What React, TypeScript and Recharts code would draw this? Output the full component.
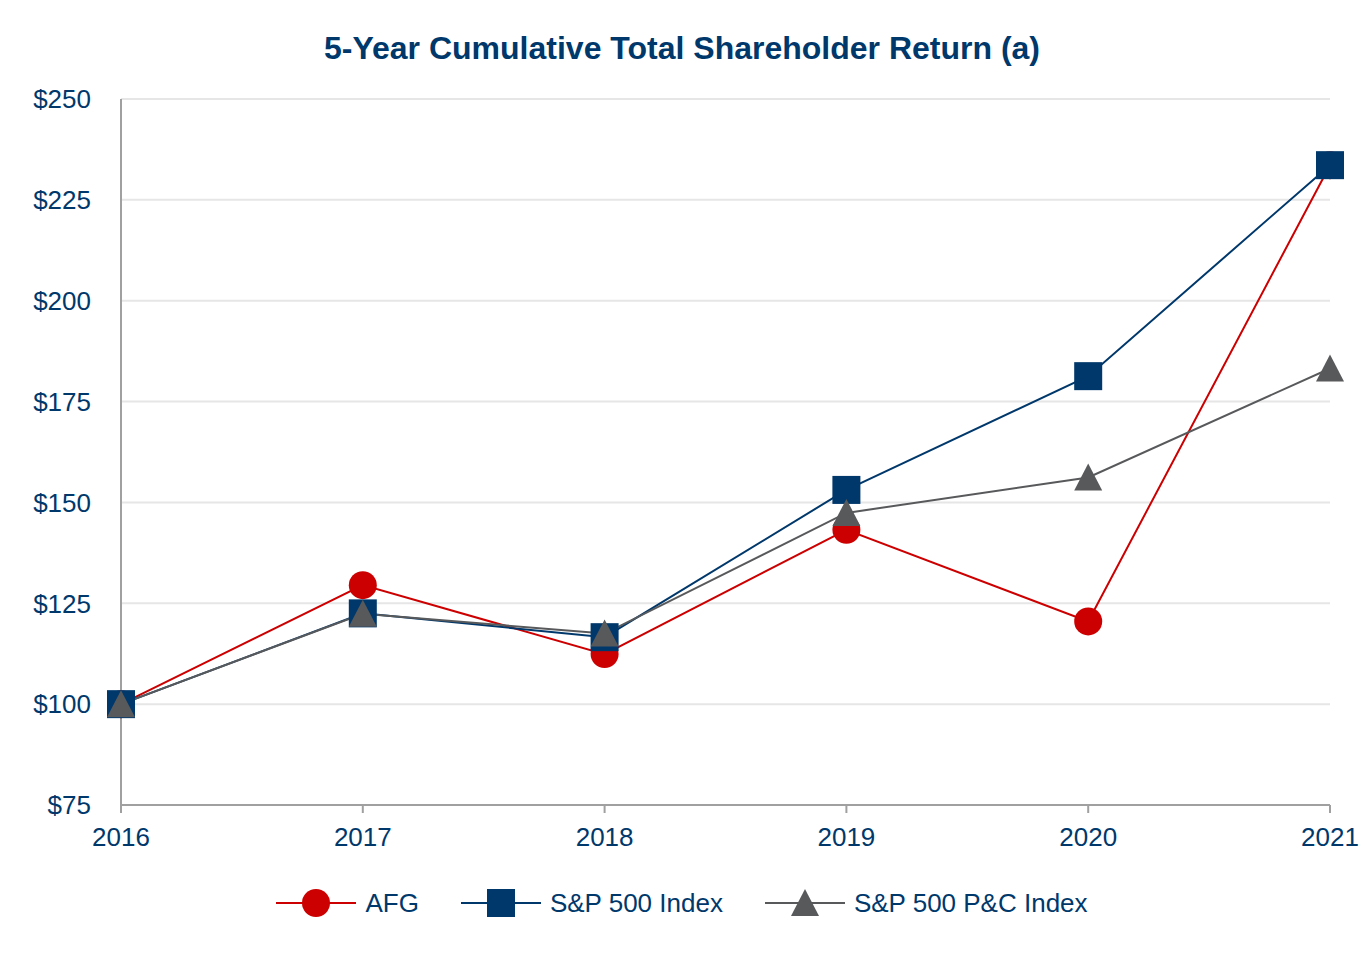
import React from "react";
import { LineChart, Line, XAxis, YAxis, CartesianGrid, Legend } from "recharts";

const years = ["2016", "2017", "2018", "2019", "2020", "2021"];
const afg = [100, 129.5, 112.4, 143.2, 120.5, 233.6];
const sp500 = [100, 122.5, 116.6, 153.1, 181.3, 233.6];
const spPC = [100, 122.4, 117.5, 147.4, 156.2, 183.2];
const yTicks = [75, 100, 125, 150, 175, 200, 225, 250];

const seriesNames = ["AFG", "S&P 500 Index", "S&P 500 P&C Index"];
const COLORS = { afg: "#cc0000", sp: "#00386b", pc: "#58595b" };
const TEXT = "#00386b";
const FONT = "'Liberation Sans', Arial, Helvetica, sans-serif";

const data = years.map((y, i) => ({ year: y, afg: afg[i], sp: sp500[i], pc: spPC[i] }));

const CircleDot = (props: any) => {
  const { cx, cy } = props;
  if (cx == null || cy == null) return null;
  return <circle cx={cx} cy={cy} r={14} fill={COLORS.afg} />;
};
const SquareDot = (props: any) => {
  const { cx, cy } = props;
  if (cx == null || cy == null) return null;
  return <rect x={cx - 14} y={cy - 14} width={28} height={28} fill={COLORS.sp} />;
};
const TriDot = (props: any) => {
  const { cx, cy } = props;
  if (cx == null || cy == null) return null;
  return <polygon points={`${cx},${cy - 14} ${cx + 14},${cy + 13} ${cx - 14},${cy + 13}`} fill={COLORS.pc} />;
};

const markerFor = (i: number) => {
  if (i === 0) return <circle cx={40} cy={20} r={14} fill={COLORS.afg} />;
  if (i === 1) return <rect x={26} y={6} width={28} height={28} fill={COLORS.sp} />;
  return <polygon points={`40,6 54,33 26,33`} fill={COLORS.pc} />;
};
const colorFor = [COLORS.afg, COLORS.sp, COLORS.pc];

const LegendContent = () => (
  <div style={{ display: "flex", justifyContent: "center", alignItems: "center", gap: 42, fontFamily: FONT, fontSize: 26, color: TEXT }}>
    {seriesNames.map((n, i) => (
      <div key={n} style={{ display: "flex", alignItems: "center" }}>
        <svg width={80} height={40} style={{ display: "block" }}>
          <line x1={0} y1={20} x2={80} y2={20} stroke={colorFor[i]} strokeWidth={2} />
          {markerFor(i)}
        </svg>
        <span style={{ marginLeft: 9, lineHeight: "40px", whiteSpace: "nowrap" }}>{n}</span>
      </div>
    ))}
  </div>
);

export default function App() {
  return (
    <div style={{ position: "absolute", left: 0, top: 0, width: 1364, height: 960, background: "#fff" }}>
      <div
        style={{
          position: "absolute",
          top: 28,
          left: 0,
          width: 1364,
          textAlign: "center",
          fontFamily: FONT,
          fontWeight: "bold",
          fontSize: 32,
          color: TEXT,
          lineHeight: "40px",
        }}
      >
        5-Year Cumulative Total Shareholder Return (a)
      </div>
      <LineChart width={1364} height={960} data={data} margin={{ top: 99, right: 34, left: 61, bottom: 125 }}>
        <CartesianGrid vertical={false} stroke="#e6e6e6" strokeWidth={2} />
        <XAxis
          dataKey="year"
          stroke="#a0a0a0"
          strokeWidth={2}
          tickSize={8}
          tickMargin={15}
          tick={{ fill: TEXT, fontSize: 26, fontFamily: FONT }}
          height={30}
        />
        <YAxis
          domain={[75, 250]}
          ticks={yTicks}
          interval={0}
          width={60}
          stroke="#a0a0a0"
          strokeWidth={2}
          tickLine={false}
          tickSize={0}
          tickMargin={30}
          tickFormatter={(v: number) => `$${v}`}
          tick={{ fill: TEXT, fontSize: 26, fontFamily: FONT }}
        />
        <Legend
          layout="horizontal"
          verticalAlign="middle"
          align="center"
          wrapperStyle={{ position: "absolute", top: 883, left: 0, width: 1364, height: 40 }}
          content={<LegendContent />}
        />
        <Line dataKey="afg" name="AFG" stroke={COLORS.afg} strokeWidth={2} dot={<CircleDot />} activeDot={false} isAnimationActive={false} />
        <Line dataKey="sp" name="S&P 500 Index" stroke={COLORS.sp} strokeWidth={2} dot={<SquareDot />} activeDot={false} isAnimationActive={false} />
        <Line dataKey="pc" name="S&P 500 P&C Index" stroke={COLORS.pc} strokeWidth={2} dot={<TriDot />} activeDot={false} isAnimationActive={false} />
      </LineChart>
    </div>
  );
}
